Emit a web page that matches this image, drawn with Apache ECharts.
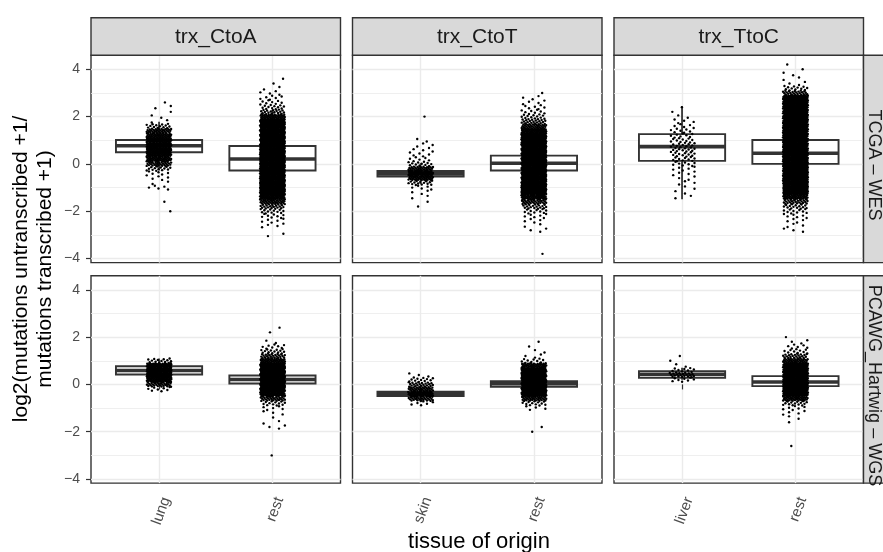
<!DOCTYPE html>
<html><head><meta charset="utf-8">
<script src="https://cdn.jsdelivr.net/npm/echarts@6/dist/echarts.min.js"></script>
<style>html,body{margin:0;padding:0;background:#fff}#c{width:883px;height:552px}</style>
</head><body><div id="c"></div>
<script>
// ---------------- data ----------------
const facetCols = ['trx_CtoA', 'trx_CtoT', 'trx_TtoC'];
const facetRows = ['TCGA – WES', 'PCAWG_Hartwig – WGS'];
const categories = [['lung', 'rest'], ['skin', 'rest'], ['liver', 'rest']];
const yTicks = [-4, -2, 0, 2, 4];
const yMinorTicks = [-3, -1, 1, 3];
const xAxisTitle = 'tissue of origin';
const yAxisTitle = 'log2(mutations untranscribed +1/\nmutations transcribed +1)';

// number of samples per 0.2-wide y bin; bin i is centred on -4.0 + 0.2*i (i = 0..42)
const binStart = -4.0, binWidth = 0.2;
const wes_CtoA_lung  = [0,0,0,0,0,0,0,0,0,0, 1,0,1,0,0,5,2,4,6,14, 30,45,55,60,60,55,45,35,14,2, 2,1,2,1,0,0,0,0,0,0, 0,0,0];
const wes_CtoA_rest  = [0,0,0,0,0,2,0,4,5,8, 12,20,35,55,80,80,80,80,80,80, 80,80,80,80,80,80,80,80,80,80, 45,18,12,8,6,4,2,1,1,0, 0,0,0];
const wes_CtoT_skin  = [0,0,0,0,0,0,0,0,0,0, 0,1,1,2,3,5,15,40,50,35, 12,6,5,4,3,2,0,0,0,0, 1,0,0,0,0,0,0,0,0,0, 0,0,0];
const wes_CtoT_rest  = [0,1,0,0,0,0,3,2,4,6, 10,18,30,50,80,80,80,80,80,80, 80,80,80,80,80,80,80,55,35,20, 12,8,6,4,3,1,0,0,0,0, 0,0,0];
const wes_TtoC_liver = [0,0,0,0,0,0,0,0,0,0, 0,0,0,2,2,2,3,3,4,5, 8,10,11,12,11,10,8,7,5,4, 2,1,1,0,0,0,0,0,0,0, 0,0,0];
const wes_TtoC_rest  = [0,0,0,0,0,0,3,3,4,6, 10,15,25,45,80,80,80,80,80,80, 80,80,80,80,80,80,80,80,80,80, 80,80,80,80,80,25,12,3,2,2, 1,1,0];
const wgs_CtoA_lung  = [0,0,0,0,0,0,0,0,0,0, 0,0,0,0,0,0,0,0,0,8, 30,55,70,70,60,14,0,0,0,0, 0,0,0,0,0,0,0,0,0,0, 0,0,0];
const wgs_CtoA_rest  = [0,0,0,0,0,1,0,0,0,0, 0,3,2,1,3,5,12,30,55,75, 75,75,75,75,75,45,25,14,8,2, 0,1,1,0,0,0,0,0,0,0, 0,0,0];
const wgs_CtoT_skin  = [0,0,0,0,0,0,0,0,0,0, 0,0,0,0,0,0,6,30,45,35, 22,12,3,0,0,0,0,0,0,0, 0,0,0,0,0,0,0,0,0,0, 0,0,0];
const wgs_CtoT_rest  = [0,0,0,0,0,0,0,0,0,0, 1,1,0,0,0,4,12,35,75,75, 75,75,75,75,45,10,3,2,1,1, 0,0,0,0,0,0,0,0,0,0, 0,0,0];
const wgs_TtoC_liver = [0,0,0,0,0,0,0,0,0,0, 0,0,0,0,0,0,0,0,0,0, 0,8,20,10,2,1,1,0,0,0, 0,0,0,0,0,0,0,0,0,0, 0,0,0];
const wgs_TtoC_rest  = [0,0,0,0,0,0,0,1,0,0, 0,0,1,2,4,6,14,40,75,75, 75,75,75,75,75,40,22,10,6,3, 1,0,0,0,0,0,0,0,0,0, 0,0,0];

// boxplot statistics: [lower whisker, Q1, median, Q3, upper whisker]
const wes_CtoA_box = [[-0.28, 0.49, 0.77, 1.01, 1.78], [-1.84, -0.28, 0.21, 0.76, 2.30]];
const wes_CtoT_box = [[-0.85, -0.53, -0.42, -0.30, 0.03], [-1.23, -0.28, 0.03, 0.35, 1.30]];
const wes_TtoC_box = [[-1.49, 0.13, 0.73, 1.26, 2.44], [-1.50, 0.00, 0.45, 1.01, 2.50]];
const wgs_CtoA_box = [[0.00, 0.42, 0.59, 0.77, 1.10], [-0.47, 0.04, 0.21, 0.38, 0.89]];
const wgs_CtoT_box = [[-0.75, -0.49, -0.40, -0.31, -0.04], [-0.46, -0.10, 0.03, 0.14, 0.50]];
const wgs_TtoC_box = [[0.20, 0.28, 0.43, 0.56, 0.70], [-0.70, -0.07, 0.10, 0.35, 0.98]];

// ---------------- layout ----------------
const FONT = '"Liberation Sans", Arial, Helvetica, sans-serif';
const colLeft = [91, 352.5, 614], panelW = 249.5;
const rowTop = [55.3, 275.8], panelH = 207.3;
const stripTop = 17.7, stripH = 37.6;
const yMin = -4.17, yMax = 4.59;
const JITTER = 0.11, BOX_W = 0.76;

const pointSets = [
  [[wes_CtoA_lung, wes_CtoA_rest], [wes_CtoT_skin, wes_CtoT_rest], [wes_TtoC_liver, wes_TtoC_rest]],
  [[wgs_CtoA_lung, wgs_CtoA_rest], [wgs_CtoT_skin, wgs_CtoT_rest], [wgs_TtoC_liver, wgs_TtoC_rest]]
];
const boxSets = [[wes_CtoA_box, wes_CtoT_box, wes_TtoC_box], [wgs_CtoA_box, wgs_CtoT_box, wgs_TtoC_box]];

function jitterPoints(counts, xCenter, seed) {
  const pts = [];
  counts.forEach((n, i) => {
    const c = binStart + binWidth * i;
    for (let k = 0; k < n; k++) {
      const fy = (k + 0.5) / n - 0.5;
      const fx = ((k * 0.6180339887 + i * 0.381966 + seed) % 1) * 2 - 1;
      pts.push([xCenter + JITTER * fx, c + binWidth * fy]);
    }
  });
  return pts;
}

const grids = [], xAxes = [], yAxes = [], series = [], graphics = [];
for (let r = 0; r < 2; r++) {
  for (let c = 0; c < 3; c++) {
    const gi = r * 3 + c;
    grids.push({left: colLeft[c], top: rowTop[r], width: panelW, height: panelH, show: true,
      backgroundColor: '#fff', borderColor: '#333333', borderWidth: 1.4, outerBoundsMode: 'none', containLabel: false});
    const cats = categories[c];
    xAxes.push({gridIndex: gi, type: 'value', min: 0.4, max: 2.6,
      axisLine: {show: false},
      axisTick: {show: r === 1, customValues: [1, 2], length: 5, lineStyle: {color: '#333333', width: 1.2}},
      axisLabel: {show: r === 1, customValues: [1, 2], formatter: v => cats[Math.round(v) - 1],
        rotate: 70, verticalAlign: 'top', fontSize: 15, color: '#4D4D4D', fontFamily: FONT, margin: 12},
      splitLine: {show: true, lineStyle: {color: '#EBEBEB', width: 1.4}}});
    yAxes.push({gridIndex: gi, type: 'value', min: yMin, max: yMax,
      axisLine: {show: false},
      axisTick: {show: c === 0, customValues: yTicks, length: 5, lineStyle: {color: '#333333', width: 1.2}},
      axisLabel: {show: c === 0, customValues: yTicks, formatter: v => String(v).replace('-', '\u2212'),
        fontSize: 14, color: '#4D4D4D', fontFamily: FONT, margin: 11},
      splitLine: {show: true, lineStyle: {color: '#EBEBEB', width: 1.4}}});
    yAxes.push({gridIndex: gi, type: 'value', min: yMin, max: yMax, position: 'left',
      axisLine: {show: false},
      axisTick: {show: false, customValues: yMinorTicks},
      axisLabel: {show: false, customValues: yMinorTicks},
      splitLine: {show: true, lineStyle: {color: '#EBEBEB', width: 0.8}}});

    const boxes = boxSets[r][c];
    series.push({type: 'custom', xAxisIndex: gi, yAxisIndex: 2 * gi, z: 2, silent: true, animation: false,
      data: boxes.map((b, k) => [k + 1].concat(b)),
      renderItem: (params, api) => {
        const x = api.value(0);
        const lo = api.coord([x, api.value(1)]), q1 = api.coord([x, api.value(2)]);
        const md = api.coord([x, api.value(3)]), q3 = api.coord([x, api.value(4)]);
        const hi = api.coord([x, api.value(5)]);
        const half = api.size([BOX_W, 0])[0] / 2;
        const st = {stroke: '#333333', lineWidth: 1.8, fill: null};
        return {type: 'group', children: [
          {type: 'line', shape: {x1: lo[0], y1: lo[1], x2: q1[0], y2: q1[1]}, style: st},
          {type: 'line', shape: {x1: q3[0], y1: q3[1], x2: hi[0], y2: hi[1]}, style: st},
          {type: 'rect', shape: {x: q3[0] - half, y: q3[1], width: 2 * half, height: q1[1] - q3[1]},
            style: {fill: '#ffffff', stroke: '#333333', lineWidth: 1.9}},
          {type: 'line', shape: {x1: md[0] - half, y1: md[1], x2: md[0] + half, y2: md[1]},
            style: {stroke: '#333333', lineWidth: 3.6}}
        ]};
      }});
    const pts = jitterPoints(pointSets[r][c][0], 1, 0.13 + gi * 0.07)
      .concat(jitterPoints(pointSets[r][c][1], 2, 0.41 + gi * 0.05));
    series.push({type: 'scatter', xAxisIndex: gi, yAxisIndex: 2 * gi, z: 3, silent: true, animation: false,
      symbol: 'circle', symbolSize: 2.4, itemStyle: {color: '#000000', opacity: 1},
      progressive: 0, large: false, data: pts});
  }
}

// strips
for (let c = 0; c < 3; c++) {
  graphics.push({type: 'rect', shape: {x: colLeft[c], y: stripTop, width: panelW, height: stripH},
    style: {fill: '#D9D9D9', stroke: '#333333', lineWidth: 1.4}, z: 10});
  graphics.push({type: 'text', x: colLeft[c] + panelW / 2, y: stripTop + stripH / 2 + 1, z: 11,
    style: {text: facetCols[c], fontSize: 21, fontFamily: FONT, fill: '#1A1A1A', align: 'center', verticalAlign: 'middle'}});
}
const stripX = colLeft[2] + panelW;
for (let r = 0; r < 2; r++) {
  graphics.push({type: 'rect', shape: {x: stripX, y: rowTop[r], width: stripH, height: panelH},
    style: {fill: '#D9D9D9', stroke: '#333333', lineWidth: 1.4}, z: 10});
  graphics.push({type: 'text', x: stripX + 10, y: rowTop[r] + panelH / 2 + 6, rotation: -Math.PI / 2, z: 11,
    style: {text: facetRows[r], fontSize: 18, fontFamily: FONT, fill: '#1A1A1A', align: 'center', verticalAlign: 'middle'}});
}
// axis titles
graphics.push({type: 'text', x: 479, y: 542, z: 11,
  style: {text: xAxisTitle, fontSize: 22, fontFamily: FONT, fill: '#000', align: 'center', verticalAlign: 'middle'}});
graphics.push({type: 'text', x: 33, y: 269, rotation: Math.PI / 2, z: 11,
  style: {text: yAxisTitle, fontSize: 21, lineHeight: 24, fontFamily: FONT, fill: '#000', align: 'center', verticalAlign: 'middle'}});

const chart = echarts.init(document.getElementById('c'), null, {renderer: 'canvas'});
chart.setOption({
  animation: false,
  backgroundColor: '#ffffff',
  textStyle: {fontFamily: FONT},
  grid: grids, xAxis: xAxes, yAxis: yAxes, series: series, graphic: graphics
});
</script></body></html>
